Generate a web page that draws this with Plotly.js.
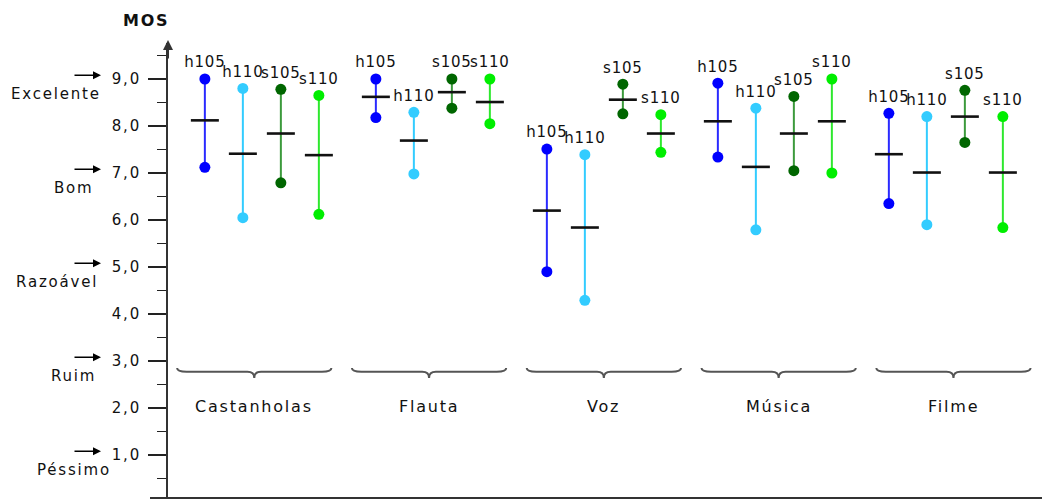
<!DOCTYPE html>
<html>
<head>
<meta charset="utf-8">
<script src="https://cdn.plot.ly/plotly-3.0.1.min.js"></script>
<style>
  html, body { margin: 0; padding: 0; background: #fff; }
  #chart { width: 1044px; height: 502px; }
  svg text { letter-spacing: 1.8px; }
  svg .textpoint text { letter-spacing: 0.8px; }
</style>
</head>
<body>
<div id="chart"></div>
<script>
// ---- data ----
const groups = ['Castanholas', 'Flauta', 'Voz', 'Música', 'Filme'];
const seriesNames = ['h105', 'h110', 's105', 's110'];

const h105Max  = [9.00, 9.00, 7.51, 8.91, 8.27];
const h105Mean = [8.12, 8.62, 6.20, 8.10, 7.40];
const h105Min  = [7.12, 8.18, 4.90, 7.34, 6.35];

const h110Max  = [8.80, 8.29, 7.39, 8.38, 8.20];
const h110Mean = [7.41, 7.69, 5.84, 7.13, 7.01];
const h110Min  = [6.05, 6.98, 4.29, 5.79, 5.90];

const s105Max  = [8.78, 9.00, 8.89, 8.63, 8.76];
const s105Mean = [7.84, 8.72, 8.56, 7.84, 8.20];
const s105Min  = [6.79, 8.38, 8.26, 7.05, 7.65];

const s110Max  = [8.65, 9.00, 8.24, 9.00, 8.20];
const s110Mean = [7.38, 8.51, 7.84, 8.10, 7.01];
const s110Min  = [6.12, 8.05, 7.44, 7.00, 5.84];

const levelNames  = ['Excelente', 'Bom', 'Razoável', 'Ruim', 'Péssimo'];
const levelValues = [9, 7, 5, 3, 1];

// ---- styling / layout constants ----
const FONT = 'DejaVu Sans, Verdana, sans-serif';
const lineColors = ['#2a2aff', '#33ccff', '#3c9a3c', '#2ee82e'];
const dotColors  = ['#0000ff', '#33ccff', '#006600', '#00ee00'];
const GROUP_STEP = 4.5;
const ML = 168, MR = 2, MT = 43, MB = 4, W = 1044, H = 502;
const PW = W - ML - MR, PH = H - MT - MB;
const pxToPaperX = px => (px - ML) / PW;
const labelRight = [103, 95, 100, 98, 113];

const seriesData = [
  [h105Max, h105Mean, h105Min],
  [h110Max, h110Mean, h110Min],
  [s105Max, s105Mean, s105Min],
  [s110Max, s110Mean, s110Min]
];

const traces = [];
const pos = (g, s) => g * GROUP_STEP + s;

// vertical range lines
seriesData.forEach(([mx, mean, mn], s) => {
  const x = [], y = [];
  groups.forEach((_, g) => { x.push(pos(g, s), pos(g, s), null); y.push(mn[g], mx[g], null); });
  traces.push({ x, y, type: 'scatter', mode: 'lines', line: { color: lineColors[s], width: 2 },
    hoverinfo: 'skip', showlegend: false });
});
// end dots + labels
seriesData.forEach(([mx, mean, mn], s) => {
  const x = [], y = [], t = [];
  groups.forEach((_, g) => {
    x.push(pos(g, s), pos(g, s)); y.push(mn[g], mx[g]); t.push('', seriesNames[s]);
  });
  traces.push({ x, y, text: t, type: 'scatter', mode: 'markers+text', textposition: 'top center',
    textfont: { family: FONT, size: 15, color: '#111' },
    marker: { color: dotColors[s], size: 11 }, name: seriesNames[s], showlegend: false });
});
// mean ticks
seriesData.forEach(([mx, mean, mn], s) => {
  traces.push({ x: groups.map((_, g) => pos(g, s)), y: mean, type: 'scatter', mode: 'markers',
    marker: { symbol: 'line-ew-open', size: 20, color: '#111', line: { width: 2.6, color: '#111' } },
    name: seriesNames[s] + ' média', showlegend: false });
});

// braces and group labels
const shapes = [];
const annotations = [];
const HW = 2.03, BR_TOP = 2.85, BR_MID = 2.77, BR_DIP = 2.64;
groups.forEach((name, g) => {
  const c = g * 4.6 + 1.3;
  const path = `M ${c - HW} ${BR_TOP} Q ${c - HW} ${BR_MID} ${c - HW + 0.25} ${BR_MID} ` +
    `L ${c - 0.18} ${BR_MID} Q ${c} ${BR_MID} ${c} ${BR_DIP} Q ${c} ${BR_MID} ${c + 0.18} ${BR_MID} ` +
    `L ${c + HW - 0.25} ${BR_MID} Q ${c + HW} ${BR_MID} ${c + HW} ${BR_TOP}`;
  shapes.push({ type: 'path', xref: 'x', yref: 'y', path, line: { color: '#555', width: 2 } });
  annotations.push({ xref: 'x', yref: 'y', x: c, y: 2.04, xanchor: 'center', yanchor: 'middle',
    text: name, showarrow: false, font: { family: FONT, size: 16, color: '#111' } });
});

// x-axis base line
shapes.push({ type: 'line', xref: 'paper', yref: 'paper', x0: pxToPaperX(150), x1: 1, y0: 0, y1: 0,
  line: { color: '#333', width: 2 } });

// quality level labels with arrows
levelNames.forEach((name, i) => {
  const v = levelValues[i];
  annotations.push({ xref: 'paper', yref: 'y', x: pxToPaperX(labelRight[i]), xanchor: 'right',
    yanchor: 'middle', y: v - 0.32, text: name, showarrow: false,
    font: { family: FONT, size: 15, color: '#111' } });
  annotations.push({ xref: 'paper', yref: 'y', x: pxToPaperX(101), y: v + 0.08, text: '',
    showarrow: true, ax: -28, ay: 0, arrowhead: 2, arrowsize: 1, arrowwidth: 1.6, arrowcolor: '#000',
    standoff: 0 });
});

// y axis arrow and title
annotations.push({ xref: 'paper', yref: 'paper', x: 0, y: 1 + 3 / PH, text: '',
  showarrow: true, ax: 0, ay: 20, arrowhead: 2, arrowsize: 1, arrowwidth: 2, arrowcolor: '#333', standoff: 0 });
annotations.push({ xref: 'paper', yref: 'paper', x: pxToPaperX(146), y: 1 + 22 / PH,
  xanchor: 'center', yanchor: 'middle',
  text: '<b>MOS</b>', showarrow: false, font: { family: FONT, size: 16, color: '#111' } });

const layout = {
  width: W, height: H,
  margin: { l: ML, r: MR, t: MT, b: MB, pad: 0 },
  paper_bgcolor: '#fff', plot_bgcolor: '#fff',
  separators: ',.',
  showlegend: false,
  xaxis: { range: [-0.97, 22.03], visible: false, fixedrange: true },
  yaxis: {
    range: [0.085, 9.766], dtick: 1, tick0: 0, tickformat: '.1f',
    showgrid: false, zeroline: false, showline: true, linecolor: '#333', linewidth: 2,
    ticks: 'outside', ticklen: 18, tickwidth: 1.5, tickcolor: '#222',
    ticklabelstandoff: 4,
    tickfont: { family: FONT, size: 15, color: '#111' },
    minor: { dtick: 0.5, ticks: 'outside', ticklen: 9, tickwidth: 1.5, tickcolor: '#222', showgrid: false },
    fixedrange: true
  },
  shapes, annotations
};

Plotly.newPlot('chart', traces, layout, { displayModeBar: false, staticPlot: true });
</script>
</body>
</html>
